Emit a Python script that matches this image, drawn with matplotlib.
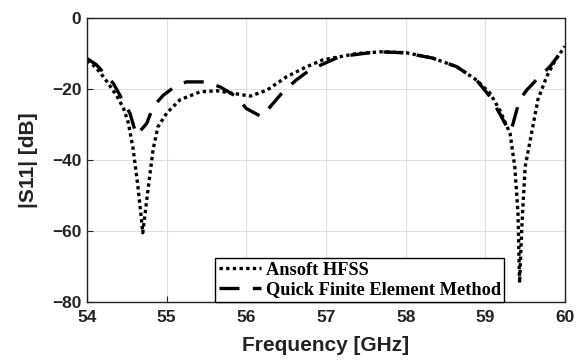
import matplotlib.pyplot as plt

# Ansoft HFSS (dotted)
hfss_f = [54.0, 54.08, 54.16, 54.27, 54.38, 54.46, 54.52, 54.58, 54.64, 54.68, 54.70,
          54.73, 54.77, 54.83, 54.89, 55.0, 55.17, 55.42, 55.63, 55.83, 56.05, 56.26,
          56.51, 56.75, 56.96, 57.39, 57.71, 58.01, 58.34, 58.64, 58.89, 59.06, 59.18,
          59.31, 59.37, 59.41, 59.43, 59.46, 59.50, 59.58, 59.66, 59.77, 59.88, 60.0]
hfss_s = [-12.0, -13.3, -15.2, -18.5, -22.2, -25.5, -29.6, -37.0, -47.6, -56.0, -60.5,
          -55.0, -47.6, -37.0, -30.7, -26.8, -23.0, -20.8, -20.5, -21.2, -22.0, -20.3,
          -16.5, -13.8, -11.8, -10.0, -9.5, -9.8, -11.3, -13.7, -17.5, -21.2, -25.9,
          -32.5, -41.9, -55.0, -74.6, -58.0, -41.9, -32.5, -23.0, -16.5, -11.8, -8.0]

# Quick Finite Element Method (dashed)
qfem_f = [54.0, 54.12, 54.33, 54.54, 54.62, 54.75, 54.83, 54.96, 55.13, 55.25, 55.5,
          55.67, 55.88, 56.0, 56.19, 56.30, 56.46, 56.63, 56.8, 57.17, 57.64, 57.99,
          58.34, 58.64, 58.89, 59.06, 59.18, 59.28, 59.32, 59.43, 59.52, 59.68, 59.81,
          59.92, 60.0]
qfem_s = [-11.4, -13.2, -18.4, -26.9, -33.0, -29.7, -25.0, -21.7, -18.9, -18.0, -18.0,
          -19.4, -22.2, -25.5, -27.8, -25.0, -20.8, -17.4, -14.6, -10.9, -9.5, -9.8,
          -11.3, -13.7, -17.5, -22.2, -26.9, -31.1, -32.0, -23.0, -20.3, -16.5, -13.7,
          -10.5, -8.5]

fig = plt.figure(figsize=(5.85, 3.6), dpi=100)
ax = fig.add_axes([0.1487, 0.1611, 0.8171, 0.7889])

ax.plot(hfss_f, hfss_s, color='black', lw=2.4, linestyle=(0, (1, 1)), label='Ansoft HFSS')
ax.plot(qfem_f, qfem_s, color='black', lw=2.4, linestyle=(0, (6, 4)),
        label='Quick Finite Element Method')

ax.set_xlim(54, 60)
ax.set_ylim(-80, 0)
ax.set_xticks([54, 55, 56, 57, 58, 59, 60])
ax.set_yticks([-80, -60, -40, -20, 0])
ax.grid(True, color='#e0e0e0', lw=0.8)
ax.tick_params(direction='in', length=4, width=0.8, labelsize=12.5, pad=4, colors='#222222')
ax.tick_params(axis='x', pad=6)
for lbl in ax.get_xticklabels() + ax.get_yticklabels():
    lbl.set_fontweight('bold')
    lbl.set_family('Liberation Sans')
for sp in ax.spines.values():
    sp.set_linewidth(1.0)
    sp.set_color('#222222')

ax.set_xlabel('Frequency [GHz]', fontsize=15, fontweight='bold', family='Liberation Sans',
              color='#222222', labelpad=8)
ax.set_ylabel('|S11| [dB]', fontsize=15, fontweight='bold', family='Liberation Sans',
              color='#222222', labelpad=10)

leg = ax.legend(loc='lower left', bbox_to_anchor=(0.268, 0.0), borderaxespad=0,
                fancybox=False, edgecolor='black', framealpha=1, handlelength=2.3,
                prop={'family': 'Liberation Serif', 'weight': 'bold', 'size': 13.2},
                borderpad=0.2, labelspacing=0.15, handletextpad=0.25)
leg.get_frame().set_linewidth(1.0)

fig.savefig('out.png', dpi=100)
